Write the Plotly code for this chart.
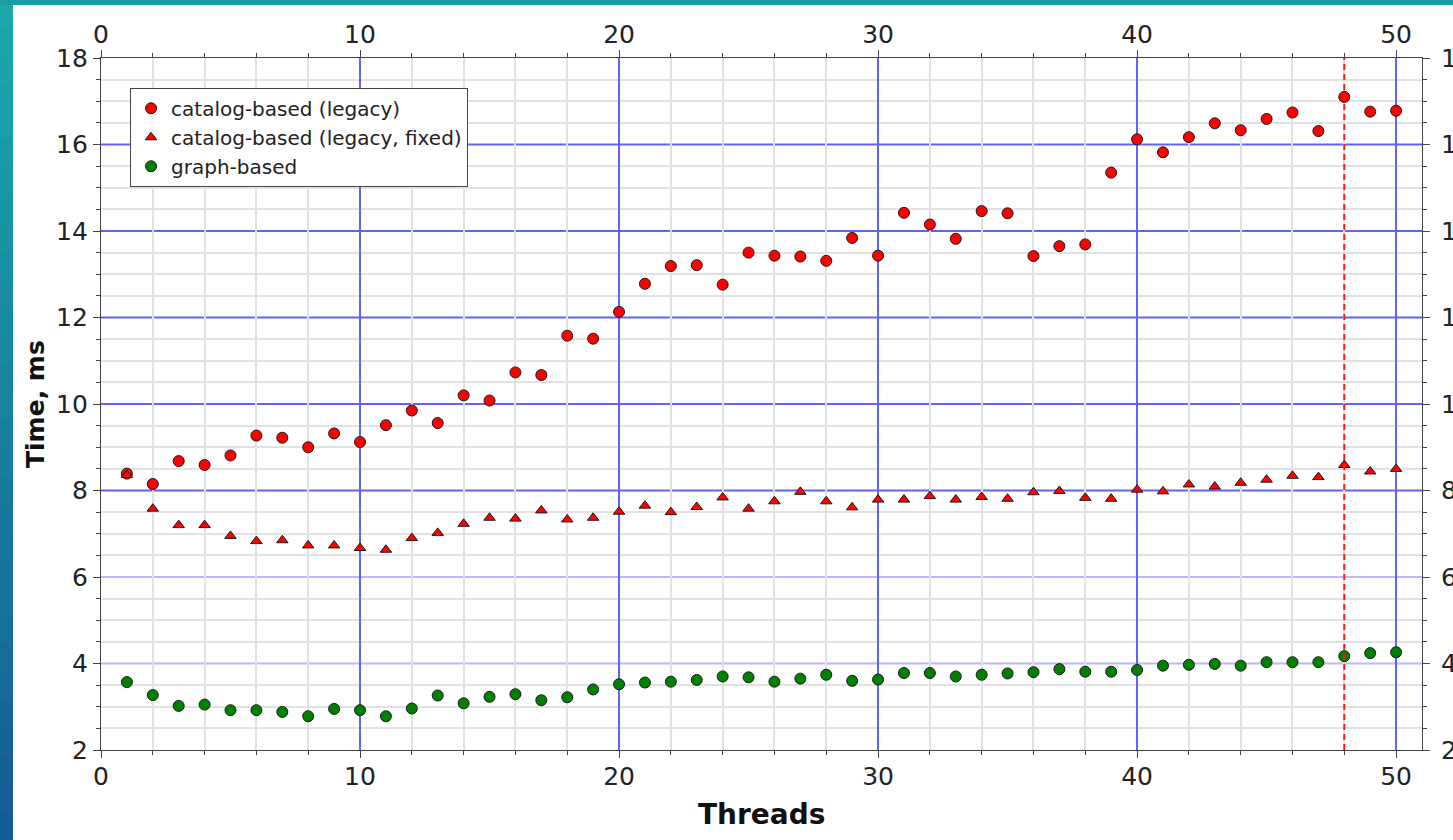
import plotly.graph_objects as go

# ---------------- data ----------------
threads = [1, 2, 3, 4, 5, 6, 7, 8, 9, 10, 11, 12, 13, 14, 15, 16, 17, 18, 19, 20,
           21, 22, 23, 24, 25, 26, 27, 28, 29, 30, 31, 32, 33, 34, 35, 36, 37, 38, 39, 40,
           41, 42, 43, 44, 45, 46, 47, 48, 49, 50]

catalog_legacy = [8.39, 8.15, 8.68, 8.59, 8.81, 9.27, 9.22, 9.00, 9.32, 9.12,
                  9.51, 9.85, 9.56, 10.20, 10.08, 10.73, 10.67, 11.58, 11.51, 12.13,
                  12.78, 13.19, 13.21, 12.76, 13.50, 13.43, 13.41, 13.31, 13.84, 13.43,
                  14.42, 14.15, 13.82, 14.46, 14.41, 13.42, 13.65, 13.69, 15.35, 16.12,
                  15.82, 16.17, 16.49, 16.33, 16.59, 16.74, 16.31, 17.10, 16.76, 16.78]

catalog_fixed = [8.36, 7.58, 7.20, 7.20, 6.95, 6.83, 6.85, 6.73, 6.73, 6.67,
                 6.63, 6.90, 7.02, 7.23, 7.37, 7.35, 7.54, 7.33, 7.37, 7.51,
                 7.65, 7.50, 7.62, 7.84, 7.58, 7.75, 7.97, 7.75, 7.61, 7.79,
                 7.79, 7.87, 7.79, 7.85, 7.81, 7.96, 7.99, 7.83, 7.81, 8.02,
                 7.98, 8.14, 8.09, 8.18, 8.25, 8.34, 8.31, 8.59, 8.44, 8.50]

graph_based = [3.57, 3.27, 3.02, 3.05, 2.92, 2.92, 2.88, 2.78, 2.95, 2.92,
               2.78, 2.96, 3.26, 3.08, 3.23, 3.29, 3.15, 3.22, 3.40, 3.52,
               3.56, 3.58, 3.62, 3.70, 3.68, 3.58, 3.65, 3.74, 3.60, 3.63,
               3.78, 3.78, 3.70, 3.74, 3.77, 3.80, 3.87, 3.81, 3.81, 3.85,
               3.95, 3.97, 3.99, 3.95, 4.03, 4.03, 4.03, 4.17, 4.24, 4.26]

series_names = ["catalog-based (legacy)", "catalog-based (legacy, fixed)", "graph-based"]
marked_thread = 48            # red dashed vertical line
x_range = [0, 51]
y_range = [2, 18]
pale_grid_y = [4, 6]
strong_grid_y = [8, 10, 12, 14, 16]

# ---------------- styling ----------------
FONT = "DejaVu Sans"
AX = "#444444"
TICKFONT = dict(family=FONT, size=25, color="#222222")
MINOR_GRID = "#e2e2e2"
BLUE_STRONG = "#6262ff"
BLUE_PALE = "#b9b9ff"

fig = go.Figure()

fig.add_trace(go.Scatter(
    x=threads, y=catalog_legacy, mode="markers", name=series_names[0],
    marker=dict(symbol="circle", size=11, color="#ff0000",
                line=dict(color="#1a1a1a", width=1))))
fig.add_trace(go.Scatter(
    x=threads, y=catalog_fixed, mode="markers", name=series_names[1],
    marker=dict(symbol="triangle-up", size=10, color="#ff0000",
                line=dict(color="#1a1a1a", width=1))))
fig.add_trace(go.Scatter(
    x=threads, y=graph_based, mode="markers", name=series_names[2],
    marker=dict(symbol="circle", size=11, color="#008000",
                line=dict(color="#1a1a1a", width=1))))

# invisible helper trace so that the mirrored top/right axes get a subplot
fig.add_trace(go.Scatter(
    x=threads[:1], y=graph_based[:1], mode="markers", xaxis="x2", yaxis="y2",
    marker=dict(opacity=0, size=1), showlegend=False, hoverinfo="skip"))

# major horizontal grid lines (pale below 8, strong above)
for gy in pale_grid_y:
    fig.add_shape(type="line", xref="paper", yref="y", x0=0, x1=1, y0=gy, y1=gy,
                  line=dict(color=BLUE_PALE, width=2), layer="below")
for gy in strong_grid_y:
    fig.add_shape(type="line", xref="paper", yref="y", x0=0, x1=1, y0=gy, y1=gy,
                  line=dict(color=BLUE_STRONG, width=2), layer="below")

# dashed marker line
fig.add_shape(type="line", xref="x", yref="paper", x0=marked_thread, x1=marked_thread,
              y0=0, y1=1, line=dict(color="#ff1a1a", width=2, dash="6px,4px"), layer="above")

# ---------------- background decoration (slide edge) ----------------
L, W, T, H = 101, 1321, 58, 692   # plot area in px
def px_x(px):
    return (px - L) / W
def px_y(py):
    return (T + H - py) / H

top_c = (26, 167, 169)
bot_c = (21, 92, 149)
n_bands = 30
for i in range(n_bands):
    f = i / (n_bands - 1)
    c = tuple(int(round(top_c[k] + (bot_c[k] - top_c[k]) * f)) for k in range(3))
    y0 = i * 840 / n_bands
    y1 = (i + 1) * 840 / n_bands + 1
    fig.add_shape(type="rect", xref="paper", yref="paper",
                  x0=px_x(0), x1=px_x(13), y0=px_y(y1), y1=px_y(y0),
                  line=dict(width=0), fillcolor="rgb(%d,%d,%d)" % c, layer="below")
fig.add_shape(type="rect", xref="paper", yref="paper",
              x0=px_x(0), x1=px_x(1453), y0=px_y(5), y1=px_y(0),
              line=dict(width=0), fillcolor="#1a9ca4", layer="below")

common_x = dict(range=x_range, tickmode="linear", tick0=0, dtick=10,
                ticks="outside", ticklen=7, tickwidth=1.2, tickcolor=AX,
                showline=True, linecolor=AX, linewidth=1.2, zeroline=False,
                tickfont=TICKFONT, automargin=False)
common_y = dict(range=y_range, tickmode="linear", tick0=2, dtick=2,
                ticks="outside", ticklen=7, tickwidth=1.2, tickcolor=AX,
                showline=True, linecolor=AX, linewidth=1.2, zeroline=False,
                tickfont=TICKFONT, automargin=False)

fig.update_layout(
    width=1453, height=840,
    template="none",
    paper_bgcolor="white", plot_bgcolor="rgba(0,0,0,0)",
    margin=dict(l=101, r=31, t=58, b=90),
    font=dict(family=FONT, color="#222222"),
    showlegend=True,
    legend=dict(x=0.022, y=0.957, xanchor="left", yanchor="top",
                bgcolor="white", bordercolor="#444444", borderwidth=1,
                font=dict(family=FONT, size=20, color="#222222"),
                tracegroupgap=0, itemwidth=30),
    xaxis=dict(**common_x, side="bottom", anchor="y",
               showgrid=True, gridcolor=BLUE_STRONG, gridwidth=2,
               minor=dict(dtick=2, ticks="outside", ticklen=4, tickcolor=AX,
                          showgrid=True, gridcolor=MINOR_GRID, gridwidth=1.5),
               ticklabelstandoff=-3),
    xaxis2=dict(**common_x, side="top", overlaying="x", anchor="y2",
                showgrid=False,
                minor=dict(dtick=2, ticks="outside", ticklen=4, tickcolor=AX,
                           showgrid=False),
                ticklabelstandoff=-3),
    yaxis=dict(**common_y, side="left", anchor="x",
               showgrid=False,
               minor=dict(dtick=0.5, ticks="outside", ticklen=4, tickcolor=AX,
                          showgrid=True, gridcolor=MINOR_GRID, gridwidth=1.5),
               ticklabelstandoff=0),
    yaxis2=dict(**common_y, side="right", overlaying="y", anchor="x2",
                showgrid=False,
                minor=dict(dtick=0.5, ticks="outside", ticklen=4, tickcolor=AX,
                           showgrid=False),
                ticklabelstandoff=6),
    annotations=[
        dict(text="<b>Threads</b>", xref="paper", yref="paper", x=0.5, y=px_y(815),
             xanchor="center", yanchor="middle", showarrow=False,
             font=dict(family=FONT, size=28, color="#111111")),
        dict(text="<b>Time, ms</b>", xref="paper", yref="paper", x=px_x(35), y=0.5,
             xanchor="center", yanchor="middle", showarrow=False, textangle=-90,
             font=dict(family=FONT, size=25, color="#111111")),
    ],
)

fig.write_html("out.html")
